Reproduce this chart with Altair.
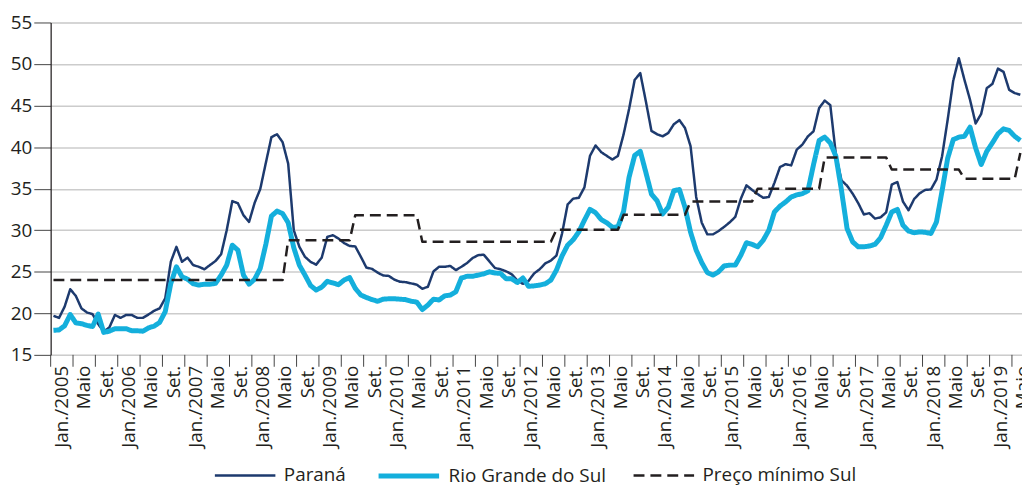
import altair as alt
import pandas as pd

# Monthly prices, Jan/2005 onwards (R$/saca)
parana = [
    19.7, 19.45, 20.8, 22.9, 22.1, 20.6, 20.1, 19.9, 18.7, 17.8, 18.3, 19.8,
    19.45, 19.8, 19.8, 19.45, 19.45, 19.85, 20.3, 20.6, 21.8, 26.2, 28.0, 26.2,
    26.7, 25.8, 25.6, 25.3, 25.8, 26.3, 27.1, 30.0, 33.5, 33.25, 31.8, 31.0,
    33.3, 34.95, 38.1, 41.2, 41.55, 40.6, 38.0, 30.0, 28.0, 26.8, 26.2, 25.85,
    26.7, 29.2, 29.4, 29.0, 28.45, 28.1, 28.05, 26.8, 25.5, 25.35, 24.9, 24.55,
    24.5, 24.05, 23.8, 23.75, 23.6, 23.45, 22.95, 23.2, 25.05, 25.6, 25.6, 25.7,
    25.2, 25.6, 26.05, 26.65, 27.0, 27.05, 26.25, 25.45, 25.3, 25.05, 24.7, 23.95,
    23.55, 23.9, 24.8, 25.3, 26.0, 26.35, 26.95, 29.6, 33.1, 33.8, 33.9, 35.15,
    38.95, 40.2, 39.4, 38.95, 38.5, 38.95, 41.5, 44.6, 48.1, 48.9, 45.5, 41.95,
    41.55, 41.3, 41.7, 42.75, 43.25, 42.3, 40.1, 34.0, 30.9, 29.5, 29.5, 29.9,
    30.4, 30.95, 31.6, 33.8, 35.4, 34.85, 34.35, 33.9, 34.0, 35.7, 37.6, 37.95,
    37.8, 39.7, 40.3, 41.3, 41.9, 44.7, 45.6, 45.05, 39.1, 36.0, 35.35, 34.4,
    33.25, 31.9, 32.05, 31.4, 31.55, 32.15, 35.5, 35.8, 33.45, 32.4, 33.75, 34.45,
    34.85, 34.9, 36.1, 38.9, 43.3, 48.0, 50.7, 48.1, 45.7, 42.85, 44.0, 47.1,
    47.6, 49.45, 49.05, 46.9, 46.5, 46.3,
]

rio_grande_do_sul = [
    17.95, 18.0, 18.5, 19.85, 18.85, 18.75, 18.55, 18.4, 19.9, 17.7, 17.85, 18.15,
    18.15, 18.15, 17.9, 17.9, 17.85, 18.25, 18.45, 18.9, 20.2, 23.6, 25.6, 24.4,
    24.1, 23.55, 23.4, 23.5, 23.5, 23.6, 24.6, 25.8, 28.2, 27.6, 24.6, 23.5,
    24.1, 25.4, 28.3, 31.7, 32.3, 32.0, 30.9, 27.9, 25.8, 24.6, 23.35, 22.8,
    23.15, 23.85, 23.65, 23.45, 24.0, 24.3, 23.0, 22.2, 21.9, 21.65, 21.45, 21.7,
    21.75, 21.75, 21.7, 21.65, 21.45, 21.35, 20.45, 21.0, 21.7, 21.6, 22.1, 22.2,
    22.6, 24.25, 24.45, 24.45, 24.6, 24.75, 25.0, 24.85, 24.8, 24.15, 24.15, 23.7,
    24.25, 23.25, 23.3, 23.4, 23.55, 24.0, 25.2, 26.9, 28.2, 28.85, 29.8, 31.2,
    32.5, 32.1, 31.3, 30.9, 30.35, 30.4, 32.25, 36.4, 39.0, 39.5, 36.95, 34.35,
    33.55, 31.95, 32.75, 34.75, 34.9, 32.75, 29.75, 27.6, 26.1, 24.9, 24.6, 25.0,
    25.7, 25.8, 25.8, 27.0, 28.5, 28.3, 28.0, 28.8, 30.0, 32.2, 32.9, 33.4,
    34.0, 34.25, 34.4, 34.75, 37.9, 40.8, 41.2, 40.5, 38.9, 34.8, 30.2, 28.6,
    28.0, 28.0, 28.1, 28.3, 29.1, 30.6, 32.2, 32.5, 30.6, 29.9, 29.7, 29.8,
    29.75, 29.6, 31.0, 34.75, 38.65, 40.9, 41.2, 41.3, 42.4, 39.9, 37.9, 39.5,
    40.5, 41.6, 42.2, 42.0, 41.3, 40.8,
]

preco_minimo_sul = (
    [24.0] * 42 + [28.8] * 12 + [31.8] * 12 + [28.6] * 24 + [30.05] * 12
    + [31.85] * 12 + [33.45] * 12 + [35.0] * 12 + [38.75] * 12 + [37.3] * 13
    + [36.2] * 10 + [39.3]
)

series_names = ["Paraná", "Rio Grande do Sul", "Preço mínimo Sul"]
series_colors = ["#1d3a6e", "#14afdc", "#231f20"]
series_dash = [[1, 0], [1, 0], [11, 6]]
series_width = [2.5, 5.0, 2.5]

x_labels = [
    "Jan./2005", "Maio", "Set.", "Jan./2006", "Maio", "Set.",
    "Jan./2007", "Maio", "Set.", "Jan./2008", "Maio", "Set.",
    "Jan./2009", "Maio", "Set.", "Jan./2010", "Maio", "Set.",
    "Jan./2011", "Maio", "Set.", "Jan./2012", "Maio", "Set.",
    "Jan./2013", "Maio", "Set.", "Jan./2014", "Maio", "Set.",
    "Jan./2015", "Maio", "Set.", "Jan./2016", "Maio", "Set.",
    "Jan./2017", "Maio", "Set.", "Jan./2018", "Maio", "Set.",
    "Jan./2019", "Maio",
]
y_ticks = [15, 20, 25, 30, 35, 40, 45, 50, 55]

rows = []
for name, vals in zip(series_names, [parana, rio_grande_do_sul, preco_minimo_sul]):
    for i, v in enumerate(vals):
        rows.append({"mes": i + 0.5, "serie": name, "valor": v})
df = pd.DataFrame(rows)

# each label covers a group of 4 months; ticks separate the groups
label_df = pd.DataFrame({
    "pos": [4 * k + 2 for k in range(len(x_labels))],
    "start": [4 * k for k in range(len(x_labels))],
    "rotulo": x_labels,
})

TEXT = "#231f20"
FONT = "Open Sans"
PLOT_W = 979
PLOT_H = 335

x_scale = alt.Scale(domain=[0, 173.8], nice=False, zero=False)
y_scale = alt.Scale(domain=[15, 55], nice=False, zero=False)

legend = alt.Legend(
    orient="none", legendX=164, legendY=424, direction="horizontal", title=None,
    symbolType="stroke", symbolSize=3721, labelFontSize=19, labelFont=FONT,
    labelColor=TEXT, labelOffset=7, columnPadding=22,
)

lines = alt.Chart(df).mark_line(strokeJoin="round", clip=True).encode(
    x=alt.X(
        "mes:Q", scale=x_scale,
        axis=alt.Axis(
            labels=False, ticks=False, grid=False, domainColor=TEXT,
            domainWidth=1.2, title=None,
        ),
    ),
    y=alt.Y(
        "valor:Q", scale=y_scale,
        axis=alt.Axis(
            values=y_ticks, tickSize=17, tickColor="#444444", tickWidth=1,
            labelPadding=2, labelFontSize=19, labelFont=FONT, labelColor=TEXT,
            grid=True, gridColor="#cccccc", gridWidth=1.5, domainColor=TEXT,
            domainWidth=1.2, title=None,
        ),
    ),
    color=alt.Color("serie:N", scale=alt.Scale(domain=series_names, range=series_colors), legend=legend),
    strokeDash=alt.StrokeDash("serie:N", scale=alt.Scale(domain=series_names, range=series_dash), legend=legend),
    strokeWidth=alt.StrokeWidth(
        "serie:N", scale=alt.Scale(type="ordinal", domain=series_names, range=series_width), legend=legend
    ),
)

ticks = alt.Chart(label_df).mark_rule(color="#444444", strokeWidth=1).encode(
    x=alt.X("start:Q", scale=x_scale, axis=None),
    y=alt.value(PLOT_H),
    y2=alt.value(PLOT_H + 12),
)

labels = alt.Chart(label_df).mark_text(
    angle=270, align="right", baseline="middle", fontSize=19, font=FONT, color=TEXT,
).encode(
    x=alt.X("pos:Q", scale=x_scale, axis=None),
    y=alt.value(PLOT_H + 11),
    text="rotulo:N",
)

chart = alt.layer(lines, ticks, labels).properties(
    width=PLOT_W, height=PLOT_H,
    autosize=alt.AutoSizeParams(type="none"),
    padding={"left": 43, "top": 12.7, "right": 0, "bottom": 131.3},
).configure_view(stroke=None).configure(font=FONT)

chart.save("out.html", embed_options={"renderer": "svg", "actions": False})
